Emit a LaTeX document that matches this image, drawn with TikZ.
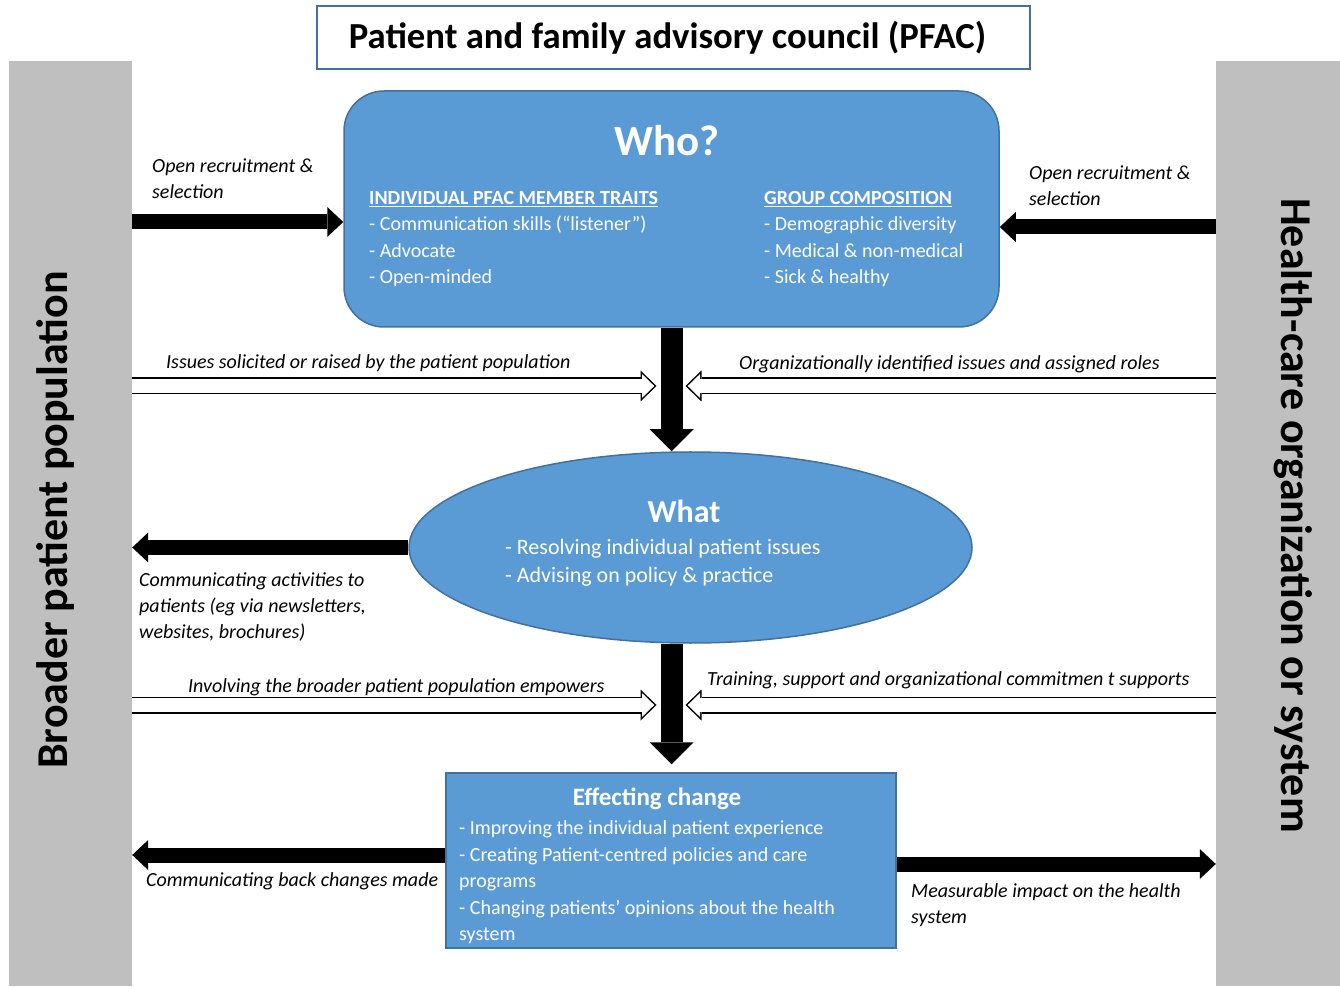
\documentclass[tikz,border=0pt]{standalone}
\usepackage{fontspec}
\setmainfont{Carlito}
\usetikzlibrary{arrows.meta, shapes.geometric}

\definecolor{boxblue}{HTML}{5B9BD5}
\definecolor{boxedge}{HTML}{41719C}
\definecolor{sidegray}{HTML}{BFBFBF}

\begin{document}
\begin{tikzpicture}[
    x=1pt, y=1pt,
    graybar/.style={fill=sidegray, inner sep=0pt},
    sidetext/.style={font=\fontsize{44}{48}\selectfont\bfseries, inner sep=0pt},
    bluebox/.style={draw=boxedge, line width=1.5pt, fill=boxblue, inner sep=0pt},
    boxhead/.style={text=white, font=\bfseries, inner sep=0pt},
    boxtext/.style={text=white, align=left, inner sep=0pt, anchor=base west},
    note/.style={font=\fontsize{20}{26}\selectfont\itshape, align=left, inner sep=0pt, anchor=base west},
    thickarrow/.style={-{Triangle[width=30pt, length=16pt, line width=0pt]}, line width=15pt},
    bigarrow/.style={-{Triangle[width=44pt, length=22pt, line width=0pt]}, line width=22pt},
    hollowouter/.style={-{Triangle[width=31pt, length=16pt, line width=0pt]}, line width=17pt},
    hollowinner/.style={-{Triangle[width=23.9pt, length=12.3pt, line width=0pt]}, line width=14pt, color=white}
]

    % Canvas
    \useasboundingbox (0,0) rectangle (1340,986);
    \fill[white] (0,0) rectangle (1340,986);

    % Side bars: patients on the left, organization on the right
    \node[graybar, minimum width=123pt, minimum height=925pt] (patients) at (70.5,462.5) {};
    \node[graybar, minimum width=124pt, minimum height=925pt] (system) at (1278,462.5) {};
    \node[sidetext, rotate=90] (patientsname) at (55,466) {Broader patient population};
    \node[sidetext, rotate=-90] (systemname) at (1293,470.5) {Health-care organization or system};

    % Title (text sits a little left of the box centre)
    \node[draw=boxedge, line width=1.5pt, minimum width=713pt, minimum height=63pt,
          font=\fontsize{36.7}{40}\selectfont\bfseries] (pfac) at (673.5,948.5)
          {Patient and family advisory council (PFAC)\hspace*{12pt}};

    % Who? box (list nodes sit on the baseline of their last line)
    \node[bluebox, rounded corners=40pt, minimum width=655pt, minimum height=236pt] (who) at (671.5,777) {};
    \node[boxhead, font=\fontsize{43}{48}\selectfont\bfseries] (whotitle) at (667,845) {Who?};
    \node[boxtext, font=\fontsize{20}{26.3}\selectfont] (traits) at (369,702.6)
        {\underline{\textbf{INDIVIDUAL PFAC MEMBER TRAITS}}\\- Communication skills (“listener”)\\- Advocate\\- Open-minded};
    \node[boxtext, font=\fontsize{20}{26.3}\selectfont] (group) at (764,702.6)
        {\underline{\textbf{GROUP COMPOSITION}}\\- Demographic diversity\\- Medical \& non-medical\\- Sick \& healthy};

    % What ellipse
    \node[bluebox, ellipse, minimum width=563pt, minimum height=191pt] (what) at (690.5,438.5) {};
    \node[boxhead, font=\fontsize{32}{36}\selectfont\bfseries] (whattitle) at (684,475) {What};
    \node[boxtext, font=\fontsize{22}{29}\selectfont] (whatlist) at (505,403)
        {- Resolving individual patient issues\\- Advising on policy \& practice};

    % Effecting change box
    \node[bluebox, minimum width=450pt, minimum height=175pt] (change) at (671,125.5) {};
    \node[boxhead, font=\fontsize{25}{30}\selectfont\bfseries] (changetitle) at (657,187) {Effecting change};
    \node[boxtext, font=\fontsize{20}{26.5}\selectfont] (changelist) at (459,45.5)
        {- Improving the individual patient experience\\- Creating Patient-centred policies and care\\programs\\- Changing patients’ opinions about the health\\system};

    % Recruitment arrows into Who?
    \coordinate (recruitL) at (132,764);
    \coordinate (recruitR) at (1216,759);
    \draw[thickarrow] (recruitL) -- (recruitL -| who.west);
    \draw[thickarrow] (recruitR) -- (recruitR -| who.east);

    % Main flow down the middle
    \draw[bigarrow] (who.south) -- (who.south |- what.north);
    \draw[bigarrow, shorten >=8pt] (who.south |- what.south) -- (who.south |- change.north);

    % Hollow arrows feeding the middle flow
    \coordinate (issuesL) at (132,600);
    \coordinate (issuesR) at (1216,600);
    \coordinate (supportL) at (132,281);
    \coordinate (supportR) at (1216,281);
    \draw[hollowouter, shorten >=15pt] (issuesL) -- (issuesL -| who.south);
    \draw[hollowinner, shorten >=17.2pt] (issuesL) -- (issuesL -| who.south);
    \draw[hollowouter, shorten >=14pt] (issuesR) -- (issuesR -| who.south);
    \draw[hollowinner, shorten >=16.2pt] (issuesR) -- (issuesR -| who.south);
    \draw[hollowouter, shorten >=15pt] (supportL) -- (supportL -| who.south);
    \draw[hollowinner, shorten >=17.2pt] (supportL) -- (supportL -| who.south);
    \draw[hollowouter, shorten >=14pt] (supportR) -- (supportR -| who.south);
    \draw[hollowinner, shorten >=16.2pt] (supportR) -- (supportR -| who.south);

    % Outgoing arrows
    \draw[thickarrow] (what.west) -- (what.west -| patients.east);
    \coordinate (backL) at ([yshift=5.5pt]change.west);
    \coordinate (impactR) at ([yshift=-3.5pt]change.east);
    \draw[thickarrow] (backL) -- (backL -| patients.east);
    \draw[thickarrow] (impactR) -- (impactR -| system.west);

    % Arrow notes (multi-line ones sit on their last baseline)
    \node[note] (recruitnoteL) at (152,787) {Open recruitment \&\\selection};
    \node[note] (recruitnoteR) at (1029,780) {Open recruitment \&\\selection};
    \node[note] (issuesnote) at (166,617) {Issues solicited or raised by the patient population};
    \node[note] (rolesnote) at (739,616) {Organizationally identified issues and assigned roles};
    \node[note] (activitiesnote) at (139,348) {Communicating activities to\\patients (eg via newsletters,\\websites, brochures)};
    \node[note] (empowernote) at (188,294) {Involving the broader patient population empowers};
    \node[note] (supportnote) at (707,301) {Training, support and organizational commitmen t supports};
    \node[note] (backnote) at (146,100) {Communicating back changes made};
    \node[note] (impactnote) at (911,63) {Measurable impact on the health\\system};

\end{tikzpicture}
\end{document}
